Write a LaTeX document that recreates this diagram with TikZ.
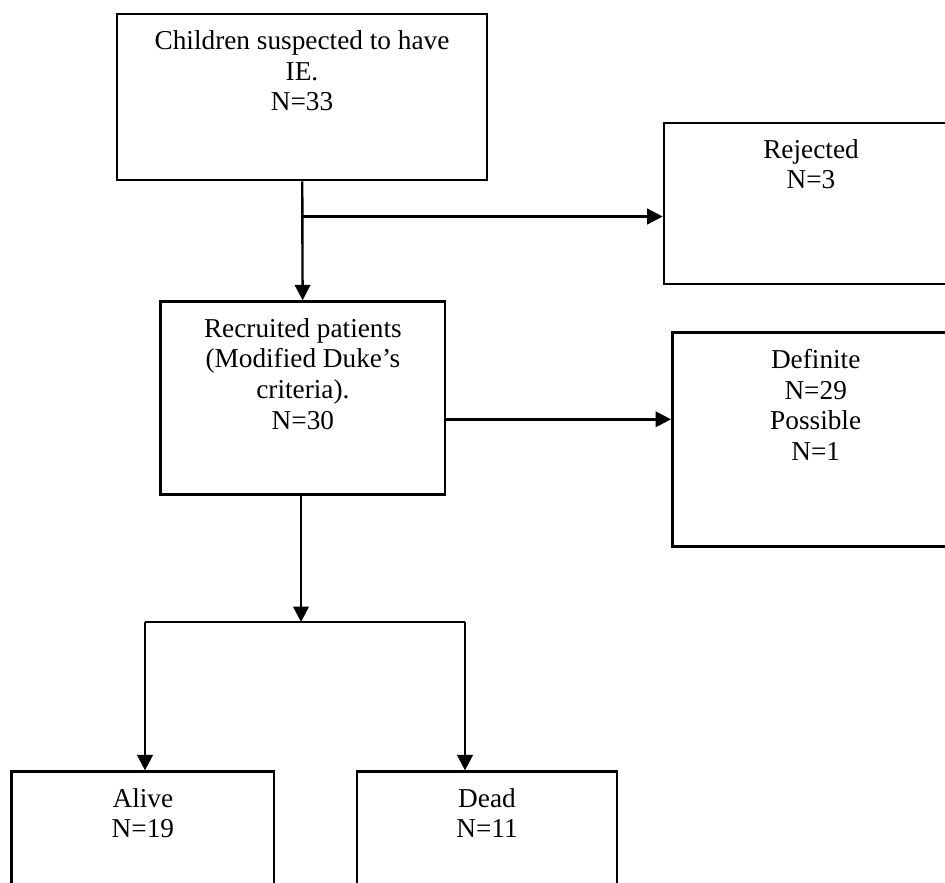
\documentclass[tikz,border=0pt]{standalone}
\usepackage{fontspec}
\setmainfont{Liberation Serif}
\usetikzlibrary{arrows.meta}

\begin{document}
\begin{tikzpicture}[x=0.025cm,y=-0.025cm,
    box/.style={draw,line width=1.8pt,inner sep=0pt},
    txt/.style={anchor=north,align=center,inner sep=0pt,yshift=-0.44cm,
                font=\fontsize{19.4}{21.8}\selectfont},
    arr/.style={line width=1.7pt,-{Triangle[length=11pt,width=11pt]}}]
  \useasboundingbox (0,0) rectangle (945,882);
  \clip (0,0) rectangle (945,882);
  \node[box,minimum width=9.25cm,minimum height=4.15cm] (sus)   at (302,97)    {};
  \node[box,minimum width=7.35cm,minimum height=4.03cm] (rej)   at (811,203.4) {};
  \node[box,minimum width=7.11cm,minimum height=4.82cm] (rec)   at (302.9,398) {};
  \node[box,minimum width=7.17cm,minimum height=5.35cm] (def)   at (815.7,439.7) {};
  \node[box,minimum width=6.56cm,minimum height=3.75cm] (alive) at (142.9,846.7) {};
  \node[box,minimum width=6.49cm,minimum height=3.75cm] (dead)  at (487,846.7) {};
  \node[txt] (sustxt)   at (sus.north)   {Children suspected to have\\IE.\\N=33};
  \node[txt] (rejtxt)   at (rej.north)   {Rejected\\N=3};
  \node[txt] (rectxt)   at (rec.north)   {Recruited patients\\(Modified Duke’s\\criteria).\\N=30};
  \node[txt] (deftxt)   at (def.north)   {Definite\\N=29\\Possible\\N=1};
  \node[txt] (alivetxt) at (alive.north) {Alive\\N=19};
  \node[txt] (deadtxt)  at (dead.north)  {Dead\\N=11};
  \coordinate (fork1) at (302.5,216.5);
  \coordinate (fork2) at (301,622);
  \coordinate (ltop)  at (145,622);
  \coordinate (rtop)  at (465,622);
  \draw[arr] (sus) -- (rec);
  \draw[arr] (fork1) -- (fork1 -| rej.west);
  \draw[arr] (rec.east |- 0,419.3) -- (def.west |- 0,419.3);
  \draw[arr] (rec.south -| fork2) -- (fork2);
  \draw[line width=1.7pt] (ltop) -- (rtop);
  \draw[arr] (ltop) -- (ltop |- alive.north);
  \draw[arr] (rtop) -- (rtop |- dead.north);
\end{tikzpicture}
\end{document}
